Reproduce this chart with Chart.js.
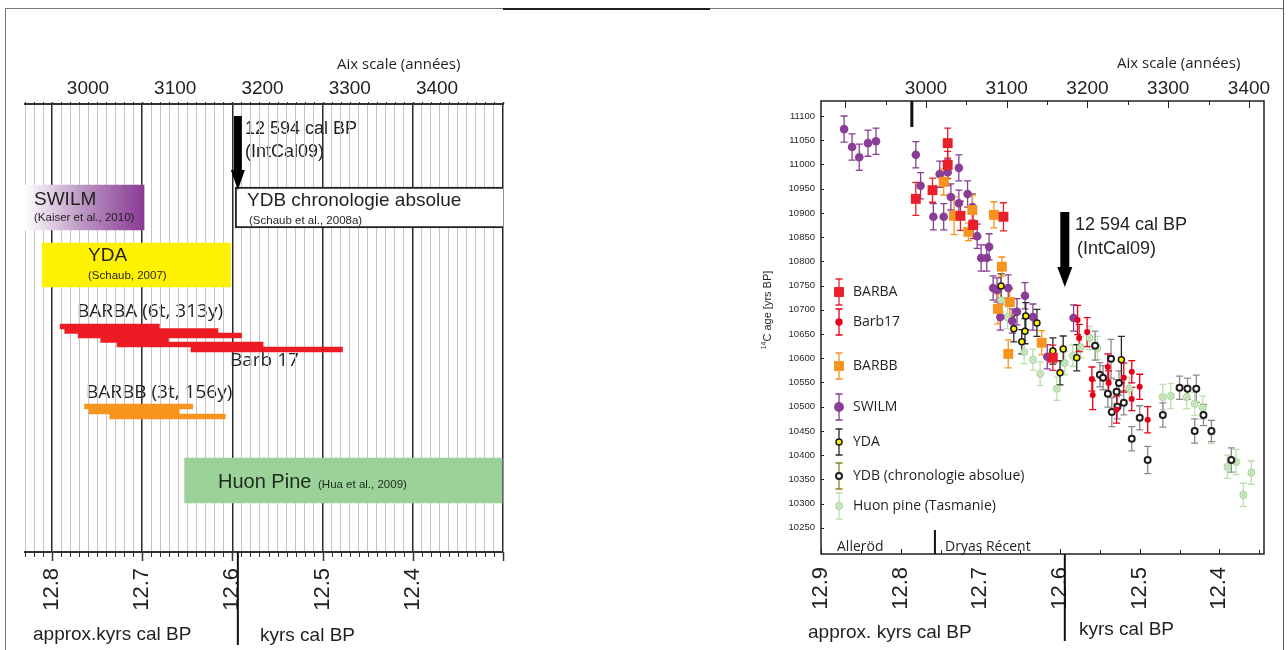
<!DOCTYPE html>
<html>
<head>
<meta charset="utf-8">
<title>Chronologies YDB</title>
<script src="https://cdn.jsdelivr.net/npm/chart.js@4.4.1/dist/chart.umd.min.js"></script>
<style>
  body { margin: 0; background: #fff; }
  #page { position: relative; width: 1288px; height: 650px; overflow: hidden; }
  canvas { position: absolute; top: 0; }
  #left { left: 0; }
  #right { left: 640px; }
  .rule { position: absolute; background: #777; }
</style>
</head>
<body>
<div id="page">
  <canvas id="left" width="640" height="650"></canvas>
  <canvas id="right" width="648" height="650"></canvas>
  <div class="rule" style="left:5px;top:8px;width:1px;height:642px"></div>
  <div class="rule" style="left:5px;top:8px;width:1278px;height:1px"></div>
  <div class="rule" style="left:503px;top:8px;width:207px;height:2px;background:#222"></div>
  <div class="rule" style="left:1283px;top:0;width:1px;height:650px;background:#555"></div>
</div>
<script>
"use strict";

// ---- left panel: time spans, kyr cal BP ----
var kyrLabels = [12.8, 12.7, 12.6, 12.5, 12.4];
var aixLabels = [3000, 3100, 3200, 3300, 3400];
var swilmSpan = [12.831, 12.698];
var ydaSpan = [12.811, 12.602];
var ydbSpan = [12.597, 12.300];
var huonSpan = [12.653, 12.301];
var barbaStart = [12.791, 12.786, 12.771, 12.746, 12.728, 12.646];
var barbaEnd = [12.681, 12.616, 12.590, 12.671, 12.566, 12.478];
var barbbStart = [12.764, 12.759, 12.736];
var barbbEnd = [12.644, 12.659, 12.608];
var intcalAge = 12.594; // 12 594 cal BP (IntCal09)

// ---- right panel: 14C ages ----
var ageTicks = [12.9, 12.8, 12.7, 12.6, 12.5, 12.4];
var c14Ticks = [10250, 10300, 10350, 10400, 10450, 10500, 10550, 10600, 10650,
  10700, 10750, 10800, 10850, 10900, 10950, 11000, 11050, 11100];
var allerodEnd = 12.757;
var aixMark = 12.786;

var barbaX = [12.781, 12.760, 12.741, 12.741, 12.725, 12.709, 12.671, 12.609];
var barbaY = [10929, 10947, 11044, 10999, 10894, 10875, 10892, 10601];
var barbaErr = [34, 25, 31, 28, 30, 28, 29, 26];

var barb17X = [12.578, 12.576, 12.566, 12.560, 12.559, 12.540, 12.539, 12.529, 12.520, 12.510, 12.510, 12.500, 12.490];
var barb17Y = [10679, 10642, 10654, 10557, 10524, 10582, 10549, 10494, 10560, 10572, 10516, 10541, 10473];
var barb17Err = [30, 28, 30, 25, 30, 27, 25, 28, 30, 23, 24, 26, 27];

var barbbX = [12.746, 12.733, 12.715, 12.710, 12.683, 12.673, 12.678, 12.663, 12.665, 12.623];
var barbbY = [10964, 10894, 10861, 10906, 10896, 10789, 10702, 10716, 10609, 10632];
var barbbErr = [27, 39, 18, 31, 27, 20, 31, 28, 29, 25];

var swilmX = [12.871, 12.861, 12.852, 12.841, 12.831, 12.781, 12.775, 12.759, 12.746, 12.751,
  12.741, 12.737, 12.727, 12.727, 12.716, 12.710, 12.704, 12.699, 12.692, 12.689,
  12.684, 12.679, 12.665, 12.644, 12.675, 12.660, 12.654, 12.634, 12.616, 12.583];
var swilmY = [11073, 11036, 11015, 11044, 11048, 11020, 10956, 10892, 10892, 10980,
  10984, 10933, 10993, 10920, 10939, 10912, 10852, 10807, 10807, 10830,
  10745, 10741, 10745, 10729, 10685, 10677, 10696, 10685, 10603, 10683];
var swilmErr = [27, 27, 27, 27, 27, 27, 27, 27, 27, 27,
  27, 27, 27, 27, 27, 27, 25, 27, 27, 27,
  25, 25, 27, 27, 27, 25, 27, 27, 25, 27];

var ydaX = [12.674, 12.658, 12.648, 12.643, 12.644, 12.629, 12.609, 12.600, 12.596, 12.579, 12.523];
var ydaY = [10749, 10661, 10634, 10687, 10656, 10673, 10615, 10570, 10619, 10601, 10597];
var ydaErr = [25, 27, 25, 28, 26, 28, 27, 25, 27, 27, 48];

var ydbX = [12.556, 12.536, 12.550, 12.546, 12.540, 12.529, 12.526, 12.535, 12.528, 12.520, 12.500,
  12.510, 12.490, 12.471, 12.450, 12.440, 12.429, 12.420, 12.431, 12.410, 12.385];
var ydbY = [10626, 10599, 10566, 10560, 10527, 10531, 10549, 10489, 10500, 10508, 10477,
  10434, 10390, 10483, 10539, 10537, 10537, 10483, 10450, 10450, 10390];
var ydbErr = [30, 40, 25, 25, 28, 25, 25, 30, 25, 25, 25,
  25, 28, 25, 24, 22, 28, 22, 25, 22, 25];

var huonX = [12.674, 12.666, 12.645, 12.634, 12.625, 12.604, 12.594, 12.584, 12.574, 12.563, 12.553,
  12.513, 12.471, 12.461, 12.441, 12.431, 12.421, 12.410, 12.390, 12.379, 12.370, 12.360];
var huonY = [10720, 10685, 10613, 10597, 10568, 10537, 10590, 10605, 10623, 10642, 10621,
  10537, 10520, 10522, 10520, 10506, 10498, 10448, 10376, 10386, 10318, 10364];
var huonErr = [24, 24, 24, 22, 24, 24, 24, 22, 22, 24, 24,
  24, 26, 26, 24, 24, 24, 24, 24, 26, 24, 24];

var SANS = '"Liberation Sans", Arial, sans-serif';
var MYRIAD = '"Open Sans", "Liberation Sans", sans-serif';
var INK = '#231f20';

function isTenth(v) { return Math.abs(v * 10 - Math.round(v * 10)) < 1e-6; }
function stepTicks(lo, hi, step) {
  var out = [];
  for (var v = lo; v <= hi + step / 2; v += step) out.push({ value: Math.round(v * 1000) / 1000 });
  return out;
}
function plain(v) { return String(v); }
function txt(c, s, x, y, size, fam, align, base, color) {
  c.font = size + 'px ' + fam;
  c.textAlign = align || 'left';
  c.textBaseline = base || 'middle';
  c.fillStyle = color || INK;
  c.fillText(s, x, y);
}
function arrowDown(c, x, y0, y1, y2, half, head) {
  c.fillStyle = '#000';
  c.fillRect(x - half, y0, half * 2, y1 - y0);
  c.beginPath();
  c.moveTo(x - head, y1); c.lineTo(x + head, y1); c.lineTo(x, y2);
  c.closePath(); c.fill();
}

// ================= left panel =================
// lanes on a hidden 0-448 axis (layout only)
var LANE = { swilm: 103.5, ydb: 103.5, yda: 161, huon: 376.5,
  barba: [222.5, 227, 231.5, 236, 240.5, 245.5], barbb: [302.5, 307.5, 312.5] };

function spans(s, e, lanes) {
  return s.map(function (v, i) { return { x: [v, e[i]], y: lanes[i] }; });
}
function swilmFill(ctx) {
  var ch = ctx.chart;
  if (!ch.chartArea) return '#8b3a96';
  var sx = ch.scales.x;
  var g = ch.ctx.createLinearGradient(sx.getPixelForValue(swilmSpan[0]), 0, sx.getPixelForValue(swilmSpan[1]), 0);
  g.addColorStop(0, '#ffffff');
  g.addColorStop(0.5, '#b993c1');
  g.addColorStop(1, '#8b3a96');
  return g;
}

var leftDecor = {
  id: 'leftDecor',
  beforeDraw: function (chart) {
    // these labels sit under the grid, as in the original
    var c = chart.ctx;
    txt(c, 'BARBA (6t, 313y)', 77, 312, 19, MYRIAD);
    txt(c, 'Barb 17', 230, 361, 19, MYRIAD);
    txt(c, 'BARBB (3t, 156y)', 86, 393, 19, MYRIAD);
    txt(c, '12 594 cal BP', 245, 129, 18, SANS);
    txt(c, '(IntCal09)', 245, 152, 18, SANS);
  },
  afterDatasetsDraw: function (chart) {
    var c = chart.ctx;
    txt(c, 'SWILM', 34, 200, 19, SANS);
    txt(c, '(Kaiser et al., 2010)', 34, 218, 11.5, SANS);
    txt(c, 'YDA', 88, 256, 19, SANS);
    txt(c, '(Schaub, 2007)', 88, 276, 11.5, SANS);
    txt(c, 'YDB chronologie absolue', 247, 201, 19, SANS);
    txt(c, '(Schaub et al., 2008a)', 249, 221, 11.5, SANS);
    txt(c, 'Huon Pine', 218, 488, 20, SANS, 'left', 'alphabetic', '#1b2a1b');
    txt(c, '(Hua et al., 2009)', 318, 488, 11.5, SANS, 'left', 'alphabetic', '#1b2a1b');
  },
  afterDraw: function (chart) {
    var c = chart.ctx, a = chart.chartArea, sx = chart.scales.x;
    c.save();
    c.strokeStyle = '#333';
    chart.scales.x.ticks.forEach(function (t) {
      var x = Math.round(sx.getPixelForValue(t.value)) + 0.5;
      c.lineWidth = isTenth(t.value) ? 1.5 : 1;
      c.beginPath();
      c.moveTo(x, a.bottom); c.lineTo(x, a.bottom + (isTenth(t.value) ? 9 : 5));
      c.moveTo(x, a.top); c.lineTo(x, a.top - 2);
      c.stroke();
    });
    var xi = sx.getPixelForValue(intcalAge);
    c.lineWidth = 2; c.strokeStyle = '#111';
    c.beginPath(); c.moveTo(xi, a.bottom); c.lineTo(xi, 645); c.stroke();
    arrowDown(c, xi, 116, 170, 190, 4, 7);
    txt(c, 'approx.kyrs cal BP', 33, 635, 19, SANS);
    txt(c, 'kyrs cal BP', 260, 636, 19, SANS);
    txt(c, 'Aix scale (années)', 337, 65, 15, MYRIAD);
    c.restore();
  }
};

new Chart(document.getElementById('left'), {
  type: 'bar',
  data: {
    datasets: [
      { label: 'Huon Pine', data: [{ x: huonSpan, y: LANE.huon }], backgroundColor: '#9bd29a', barThickness: 45 },
      { label: 'YDA', data: [{ x: ydaSpan, y: LANE.yda }], backgroundColor: '#fff200', barThickness: 44 },
      { label: 'SWILM', data: [{ x: swilmSpan, y: LANE.swilm }], backgroundColor: swilmFill, barThickness: 45 },
      { label: 'YDB', data: [{ x: ydbSpan, y: LANE.ydb }], backgroundColor: '#ffffff', barThickness: 41,
        borderColor: '#222', borderWidth: { left: 2, top: 2, bottom: 2, right: 0 } },
      { label: 'BARBA', data: spans(barbaStart, barbaEnd, LANE.barba), backgroundColor: '#ed1c24', barThickness: 5 },
      { label: 'BARBB', data: spans(barbbStart, barbbEnd, LANE.barbb), backgroundColor: '#f7941d', barThickness: 5 }
    ]
  },
  options: {
    indexAxis: 'y',
    responsive: false,
    animation: false,
    events: [],
    layout: { padding: { left: 25, right: 137, top: 0, bottom: 0 } },
    datasets: { bar: { grouped: false, borderSkipped: false, borderWidth: 0 } },
    plugins: { legend: { display: false }, tooltip: { enabled: false } },
    scales: {
      x: {
        type: 'linear', reverse: true, min: 12.3, max: 12.83,
        afterBuildTicks: function (s) { s.ticks = stepTicks(12.3, 12.83, 0.01); },
        afterFit: function (s) { s.height = 98; },
        ticks: {
          autoSkip: false, minRotation: 90, maxRotation: 90, padding: 16, color: '#222',
          font: { family: SANS, size: 22 },
          callback: function (v) {
            return kyrLabels.some(function (k) { return Math.abs(k - v) < 1e-6; }) ? v.toFixed(1) : '';
          }
        },
        grid: {
          drawTicks: false,
          color: function (ctx) { return ctx.tick && isTenth(ctx.tick.value) ? '#2b2b2b' : '#c4c4c4'; },
          lineWidth: function (ctx) { return ctx.tick && isTenth(ctx.tick.value) ? 1.5 : 1; }
        },
        border: { display: true, color: '#333', width: 2 }
      },
      aix: {
        type: 'linear', position: 'top', min: 2927.8, max: 3475.6,
        afterBuildTicks: function (s) { s.ticks = aixLabels.map(function (v) { return { value: v }; }); },
        afterFit: function (s) { s.height = 104; },
        ticks: { padding: 4, color: '#222', font: { family: SANS, size: 19 }, callback: plain },
        grid: { display: false, drawTicks: false },
        border: { display: true, color: '#333', width: 2 }
      },
      y: { type: 'linear', min: 0, max: 448, reverse: true, offset: false, display: false }
    }
  },
  plugins: [leftDecor]
});

// ================= right panel =================
function pts(xs, ys, es) {
  return xs.map(function (x, i) { return { x: x, y: ys[i], err: es[i] }; });
}
function huonMarker() {
  var cv = document.createElement('canvas');
  cv.width = 9; cv.height = 9;
  var g = cv.getContext('2d');
  g.strokeStyle = '#8cc87c'; g.fillStyle = '#e8f4e0'; g.lineWidth = 1;
  g.beginPath(); g.arc(4.5, 4.5, 3.4, 0, Math.PI * 2); g.fill(); g.stroke();
  g.beginPath(); g.moveTo(2.7, 2.7); g.lineTo(6.3, 6.3); g.moveTo(6.3, 2.7); g.lineTo(2.7, 6.3); g.stroke();
  return cv;
}
var HUON_MARK = huonMarker();

// legend rows (canvas px), layout only
var LEGEND_Y = [292, 322, 366, 407, 442, 476, 506];

function drawMark(c, ds, x, y) {
  c.save();
  c.fillStyle = ds.pointBackgroundColor;
  c.strokeStyle = ds.pointBorderColor;
  c.lineWidth = ds.pointBorderWidth || 0;
  var r = ds.pointRadius;
  if (ds.pointStyle === 'rect') {
    var h = r * Math.SQRT1_2;
    c.fillRect(x - h, y - h, 2 * h, 2 * h);
  } else if (ds.pointStyle === HUON_MARK) {
    c.drawImage(HUON_MARK, x - 4.5, y - 4.5);
  } else {
    c.beginPath(); c.arc(x, y, r, 0, Math.PI * 2); c.fill();
    if (c.lineWidth) c.stroke();
  }
  c.restore();
}
function errBar(c, x, yTop, yBot, color, cap) {
  c.strokeStyle = color; c.lineWidth = 1.3;
  c.beginPath();
  c.moveTo(x, yTop); c.lineTo(x, yBot);
  c.moveTo(x - cap, yTop); c.lineTo(x + cap, yTop);
  c.moveTo(x - cap, yBot); c.lineTo(x + cap, yBot);
  c.stroke();
}

var errorBars = {
  id: 'errorBars',
  beforeDatasetsDraw: function (chart) {
    var c = chart.ctx, ys = chart.scales.y;
    c.save();
    var order = chart.data.datasets.map(function (d, i) { return i; })
      .sort(function (a, b) { return chart.data.datasets[b].order - chart.data.datasets[a].order; });
    order.forEach(function (i) {
      var ds = chart.data.datasets[i];
      chart.getDatasetMeta(i).data.forEach(function (pt, j) {
        var d = ds.data[j];
        errBar(c, pt.x, ys.getPixelForValue(d.y + d.err), ys.getPixelForValue(d.y - d.err), ds.errColor, 3.5);
      });
    });
    c.restore();
  }
};

var rightDecor = {
  id: 'rightDecor',
  afterDraw: function (chart) {
    var c = chart.ctx, a = chart.chartArea, sx = chart.scales.x, sy = chart.scales.y, sa = chart.scales.aix;
    c.save();
    c.strokeStyle = INK; c.lineWidth = 1.5;
    c.strokeRect(a.left, a.top, a.right - a.left, a.bottom - a.top);
    c.lineWidth = 1;
    c.beginPath();
    sx.ticks.forEach(function (t) {
      var x = Math.round(sx.getPixelForValue(t.value)) + 0.5;
      c.moveTo(x, a.bottom); c.lineTo(x, a.bottom - (isTenth(t.value) ? 5 : 4));
    });
    [2900, 2950, 3000, 3050, 3100, 3150, 3200, 3250, 3300, 3350, 3400].forEach(function (v) {
      var x = Math.round(sa.getPixelForValue(v)) + 0.5;
      c.moveTo(x, a.top); c.lineTo(x, a.top + (v % 100 === 0 ? 7 : 4));
    });
    sy.ticks.forEach(function (t) {
      var y = Math.round(sy.getPixelForValue(t.value)) + 0.5;
      c.moveTo(a.left, y); c.lineTo(a.left + 3, y);
    });
    c.stroke();

    // markers of the time scale
    c.fillStyle = '#111';
    c.fillRect(sx.getPixelForValue(aixMark) - 1.5, a.top, 3, 26);
    var xd = sx.getPixelForValue(allerodEnd);
    c.fillRect(xd - 1, a.bottom - 24, 2, 24);
    var xi = sx.getPixelForValue(intcalAge);
    c.fillRect(xi - 1, a.bottom, 2, 87);
    arrowDown(c, xi, 212, 267, 287, 4.5, 7.5);
    txt(c, '12 594 cal BP', 435, 225, 18, SANS);
    txt(c, '(IntCal09)', 437, 249, 18, SANS);

    txt(c, 'Alleröd', 197, 547, 14, MYRIAD);
    txt(c, 'Dryas Récent', 305, 547, 14, MYRIAD);
    txt(c, 'Aix scale (années)', 477, 64, 15, MYRIAD);
    txt(c, 'approx. kyrs cal BP', 168, 633, 19, SANS);
    txt(c, 'kyrs cal BP', 439, 630, 19, SANS);

    // y axis title with superscript 14
    c.translate(128, 310);
    c.rotate(-Math.PI / 2);
    c.font = '11px ' + SANS;
    var w = c.measureText('C age [yrs BP]').width;
    c.font = '7px ' + SANS;
    var w14 = c.measureText('14').width;
    var x0 = -(w + w14) / 2;
    txt(c, '14', x0, -4, 7, SANS, 'left', 'middle');
    txt(c, 'C age [yrs BP]', x0 + w14, 0, 11, SANS, 'left', 'middle');
    c.setTransform(1, 0, 0, 1, 0, 0);

    // legend
    chart.data.datasets.forEach(function (ds, i) {
      var y = LEGEND_Y[i];
      errBar(c, 199, y - 13, y + 13, ds.legendErr || ds.errColor, 3.5);
      drawMark(c, ds, 199, y);
      txt(c, ds.label, 213, y, 14, MYRIAD);
    });
    c.restore();
  }
};

new Chart(document.getElementById('right'), {
  type: 'scatter',
  data: {
    datasets: [
      { label: 'BARBA', data: pts(barbaX, barbaY, barbaErr), order: 1, pointStyle: 'rect', pointRadius: 7,
        pointBackgroundColor: '#e8202a', pointBorderColor: '#e8202a', pointBorderWidth: 0, errColor: '#e8202a' },
      { label: 'Barb17', data: pts(barb17X, barb17Y, barb17Err), order: 2, pointStyle: 'circle', pointRadius: 3,
        pointBackgroundColor: '#e8001b', pointBorderColor: '#e8001b', pointBorderWidth: 0, errColor: '#e8001b' },
      { label: 'BARBB', data: pts(barbbX, barbbY, barbbErr), order: 3, pointStyle: 'rect', pointRadius: 7,
        pointBackgroundColor: '#f7941d', pointBorderColor: '#f7941d', pointBorderWidth: 0, errColor: '#f7941d' },
      { label: 'SWILM', data: pts(swilmX, swilmY, swilmErr), order: 5, pointStyle: 'circle', pointRadius: 4.3,
        pointBackgroundColor: '#8a3d96', pointBorderColor: '#8a3d96', pointBorderWidth: 0, errColor: '#8a3d96' },
      { label: 'YDA', data: pts(ydaX, ydaY, ydaErr), order: 4, pointStyle: 'circle', pointRadius: 3,
        pointBackgroundColor: '#fff200', pointBorderColor: '#1a1a1a', pointBorderWidth: 1.5, errColor: '#2a2a2a' },
      { label: 'YDB (chronologie absolue)', data: pts(ydbX, ydbY, ydbErr), order: 6, pointStyle: 'circle', pointRadius: 3,
        pointBackgroundColor: '#ffffff', pointBorderColor: INK, pointBorderWidth: 2, errColor: '#8a8a8a', legendErr: '#8a8420' },
      { label: 'Huon pine (Tasmanie)', data: pts(huonX, huonY, huonErr), order: 7, pointStyle: HUON_MARK, pointRadius: 4,
        pointBackgroundColor: '#e8f4e0', pointBorderColor: '#8cc87c', pointBorderWidth: 1, errColor: '#bde0b0' }
    ]
  },
  options: {
    responsive: false,
    animation: false,
    events: [],
    layout: { padding: { left: 0, right: 24, top: 0, bottom: 0 } },
    plugins: { legend: { display: false }, tooltip: { enabled: false } },
    scales: {
      x: {
        type: 'linear', reverse: true, min: 12.344, max: 12.9,
        afterBuildTicks: function (s) { s.ticks = stepTicks(12.35, 12.9, 0.05); },
        afterFit: function (s) { s.height = 96; },
        ticks: {
          autoSkip: false, minRotation: 90, maxRotation: 90, padding: 13, color: '#222',
          font: { family: SANS, size: 22 },
          callback: function (v) {
            return ageTicks.some(function (k) { return Math.abs(k - v) < 1e-6; }) ? v.toFixed(1) : '';
          }
        },
        grid: { display: false, drawTicks: false },
        border: { display: false }
      },
      aix: {
        type: 'linear', position: 'top', min: 2870, max: 3418.6,
        afterBuildTicks: function (s) { s.ticks = aixLabels.map(function (v) { return { value: v }; }); },
        afterFit: function (s) { s.height = 101; },
        ticks: { padding: 1, color: '#222', font: { family: SANS, size: 19 }, callback: plain },
        grid: { display: false, drawTicks: false },
        border: { display: false }
      },
      y: {
        type: 'linear', min: 10196, max: 11131,
        afterBuildTicks: function (s) { s.ticks = c14Ticks.map(function (v) { return { value: v }; }); },
        afterFit: function (s) { s.width = 181; },
        ticks: { padding: 6, color: INK, font: { family: SANS, size: 9.5 }, callback: plain },
        grid: { display: false, drawTicks: false },
        border: { display: false }
      }
    }
  },
  plugins: [errorBars, rightDecor]
});
</script>
</body>
</html>
